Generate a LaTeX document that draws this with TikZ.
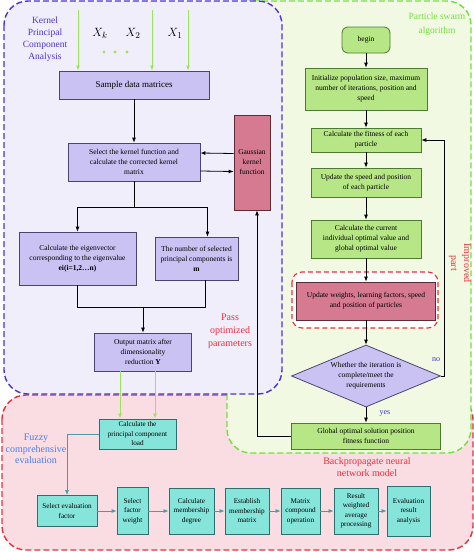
\documentclass[tikz,border=0pt]{standalone}
\usepackage{fontspec}
\setmainfont{Liberation Serif}
\usetikzlibrary{shapes.geometric}
\usetikzlibrary{arrows.meta}

\definecolor{kpcafill}{HTML}{F1EEFC}
\definecolor{kpcaline}{HTML}{4A34D2}
\definecolor{psofill}{HTML}{F1F9E3}
\definecolor{psoline}{HTML}{74DE3E}
\definecolor{bpfill}{HTML}{FADCE3}
\definecolor{bpline}{HTML}{E8303A}
\definecolor{kfill}{HTML}{C9C2F2}
\definecolor{kline}{HTML}{4B4470}
\definecolor{pfill}{HTML}{B7E686}
\definecolor{pline}{HTML}{4D7A2E}
\definecolor{rfill}{HTML}{D67A92}
\definecolor{rline}{HTML}{5C2B35}
\definecolor{ffill}{HTML}{85E5DA}
\definecolor{fline}{HTML}{2F6E6E}
\definecolor{tealarrow}{HTML}{4C9AA5}
\definecolor{inarrow}{HTML}{9BE35A}
\definecolor{fuzzyblue}{HTML}{4A80E8}
\definecolor{answerblue}{HTML}{3A35C8}

\tikzset{
    region/.style={line width=1.4pt, dash pattern=on 6pt off 3pt, rounded corners=24pt},
    boxtext/.style={align=center, font=\fontsize{7.5}{10}\selectfont, inner sep=1pt, line width=0.8pt},
    kbox/.style={boxtext, draw=kline, fill=kfill},
    pbox/.style={boxtext, draw=pline, fill=pfill},
    rbox/.style={boxtext, draw=rline, fill=rfill},
    fbox/.style={boxtext, draw=fline, fill=ffill, font=\fontsize{7.2}{9.5}\selectfont},
    diabox/.style={boxtext, diamond, draw=kline, fill=kfill, aspect=2.4, inner sep=0pt},
    label/.style={align=center, font=\fontsize{10}{13}\selectfont},
    arr/.style={-{Latex[length=5pt,width=4pt]}, line width=0.8pt, draw=black},
    garr/.style={arr, draw=inarrow, line width=1pt},
    tarr/.style={arr, draw=tealarrow},
}

\begin{document}
\begin{tikzpicture}[x=1pt, y=-1pt]
    \useasboundingbox (0,0) rectangle (474,552);

    % Regions
    \draw[region, draw=bpline, fill=bpfill] (2,395) rectangle (473,550);
    \draw[region, draw=psoline, fill=psofill] (227,1) rectangle (471,453);
    \draw[region, draw=kpcaline, fill=kpcafill] (4,1) rectangle (282,394);
    \draw[bpline, line width=1.1pt, dash pattern=on 5pt off 3pt, rounded corners=10pt, fill=white] (292,272) rectangle (438,328);

    % Region labels
    \node[label, font=\fontsize{9.5}{12}\selectfont, text=kpcaline] (kpcalabel) at (45,39) {Kernel\\Principal\\Component\\Analysis};
    \node[label, font=\fontsize{9.5}{13.5}\selectfont, text=psoline] (psolabel) at (437,24) {Particle swarm\\algorithm};
    \node[label, text=bpline] (passlabel) at (230,331) {Pass\\optimized\\parameters};
    \node[label, text=bpline, rotate=-90] (implabel) at (460,263) {Improved\\part};
    \node[label, font=\fontsize{10}{12}\selectfont, text=bpline] (bplabel) at (367,467) {Backpropagate neural\\network model};
    \node[label, font=\fontsize{10}{11.5}\selectfont, text=fuzzyblue] (fuzzylabel) at (36,449) {Fuzzy\\comprehensive\\evaluation};

    % Inputs
    \node[font=\fontsize{13}{13}\selectfont] (xk) at (100,33) {$X_k$};
    \node[font=\fontsize{13}{13}\selectfont] (x2) at (133,33) {$X_2$};
    \node[font=\fontsize{13}{13}\selectfont] (x1) at (175,33) {$X_1$};
    \foreach \x in {104,115,127}
        \fill[inarrow] (\x,52) circle (1.7);
    \coordinate (ink) at (78,10);
    \coordinate (in2) at (152,10);
    \coordinate (in1) at (188,10);

    % Kernel principal component analysis
    \node[kbox, font=\fontsize{9}{11}\selectfont, minimum width=150pt, minimum height=28pt] (sample) at (134,85) {Sample data matrices};
    \node[kbox, minimum width=132pt, minimum height=38pt] (kernel) at (134,162) {Select the kernel function and\\calculate the corrected kernel\\matrix};
    \node[rbox, minimum width=36pt, minimum height=95pt] (gauss) at (252,162.5) {Gaussian\\kernel\\function};
    \node[kbox, minimum width=117pt, minimum height=53pt] (eig) at (77.5,258.5) {Calculate the eigenvector\\corresponding to the eigenvalue\\\textbf{ei(i=1,2\ldots n)}};
    \node[kbox, minimum width=83pt, minimum height=43pt] (num) at (196.5,258.5) {The number of selected\\principal components is\\\textbf{m}};
    \node[kbox, minimum width=97pt, minimum height=38pt] (output) at (143,352) {Output matrix after\\dimensionality\\reduction \textbf{Y}};
    \coordinate (ksplit) at (134,207);
    \coordinate (kjoin) at (143,307);

    \draw[garr] (ink) -- (ink |- sample.north);
    \draw[garr] (in2) -- (in2 |- sample.north);
    \draw[garr] (in1) -- (in1 |- sample.north);
    \draw[arr] (sample) -- (kernel);
    \draw[arr] ([yshift=9pt]gauss.west) -- ([yshift=9pt]kernel.east);
    \draw[arr] ([yshift=-9pt]kernel.east) -- ([yshift=-9pt]gauss.west);
    \draw (kernel.south) -- (ksplit);
    \draw[arr] (ksplit) -| (eig.north);
    \draw[arr] (ksplit) -| ([xshift=11pt]num.north);
    \draw (eig.south) |- (kjoin);
    \draw ([xshift=9pt]num.south) |- (kjoin);
    \draw[arr] (kjoin) -- (output.north);

    % Particle swarm algorithm
    \node[pbox, rounded corners=6pt, minimum width=48pt, minimum height=26pt] (begin) at (366,40) {begin};
    \node[pbox, minimum width=122pt, minimum height=42pt] (init) at (366,89) {Initialize population size, maximum\\number of iterations, position and\\speed};
    \node[pbox, minimum width=110pt, minimum height=24pt] (fit) at (366,140) {Calculate the fitness of each\\particle};
    \node[pbox, minimum width=110pt, minimum height=29pt] (upd) at (366,182.5) {Update the speed and position\\of each particle};
    \node[pbox, minimum width=110pt, minimum height=38pt] (cur) at (366,239) {Calculate the current\\individual optimal value and\\global optimal value};
    \node[rbox, minimum width=139pt, minimum height=38pt] (wts) at (366,301) {Update weights, learning factors, speed\\and position of particles};
    \node[diabox, minimum width=149pt, minimum height=62pt] (check) at (366,376) {Whether the iteration is\\complete/meet the\\requirements};
    \node[pbox, minimum width=149pt, minimum height=26pt] (glob) at (366,436) {Global optimal solution position\\fitness function};
    \coordinate (noturn) at (444,376);

    \draw[arr] (begin) -- (init);
    \draw[arr] (init) -- (fit);
    \draw[arr] (fit) -- (upd);
    \draw[arr] (upd) -- (cur);
    \draw[arr] (cur) -- (wts);
    \draw[arr] (wts) -- (check);
    \draw[arr] (check) -- (glob);
    \draw[arr] (check.east) -- (noturn) |- (fit.east);
    \draw[arr] (glob.west) -| ([xshift=5pt]gauss.south);
    \node[font=\fontsize{8}{8}\selectfont, text=answerblue] (nolabel) at (436,360) {no};
    \node[font=\fontsize{8}{8}\selectfont, text=answerblue] (yeslabel) at (385,413) {yes};

    % Fuzzy comprehensive evaluation
    \node[fbox, minimum width=77pt, minimum height=30pt] (load) at (137.5,434) {Calculate the\\principal component\\load};
    \node[fbox, minimum width=60pt, minimum height=31pt] (f1) at (67,511) {Select evaluation\\factor};
    \node[fbox, minimum width=31pt, minimum height=47pt] (f2) at (132.5,511) {Select\\factor\\weight};
    \node[fbox, minimum width=45pt, minimum height=46pt] (f3) at (191.5,511) {Calculate\\membership\\degree};
    \node[fbox, minimum width=44pt, minimum height=46pt] (f4) at (247,511) {Establish\\membership\\matrix};
    \node[fbox, minimum width=39pt, minimum height=46pt] (f5) at (300.5,511) {Matrix\\compound\\operation};
    \node[fbox, minimum width=44pt, minimum height=46pt] (f6) at (356,511) {Result\\weighted\\average\\processing};
    \node[fbox, minimum width=43pt, minimum height=50pt] (f7) at (408.5,511) {Evaluation\\result\\analysis};

    \draw[garr] ([xshift=-23pt]output.south) -- ([xshift=-17.5pt]load.north);
    \draw[garr] ([xshift=12pt]output.south) -- ([xshift=17.5pt]load.north);
    \draw[tarr] (load.west) -| (f1.north);
    \foreach \a/\b in {f1/f2, f2/f3, f3/f4, f4/f5, f5/f6, f6/f7}
        \draw[tarr] (\a) -- (\b);
\end{tikzpicture}
\end{document}
